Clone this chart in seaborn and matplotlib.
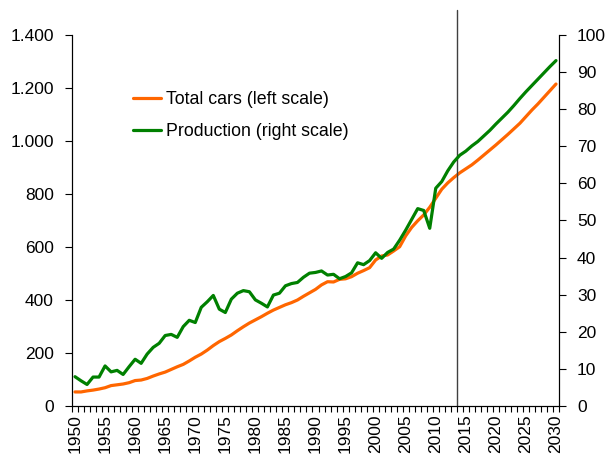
import seaborn as sns
import pandas as pd
import matplotlib.pyplot as plt
from matplotlib.ticker import FuncFormatter, MultipleLocator

# Data
years = list(range(1950, 2031))
total_cars = [53, 53, 57, 60, 64, 69, 77, 80, 83, 88,
              96, 98, 104, 113, 121, 128, 138, 148, 157, 170,
              184, 196, 211, 228, 243, 255, 268, 284, 299, 313,
              325, 337, 350, 362, 372, 382, 390, 400, 414, 427,
              440, 457, 469, 468, 478, 480, 488, 501, 511, 522,
              551, 566, 570, 585, 601, 642, 674, 699, 721, 750,
              784, 818, 842, 862, 880, 895, 910, 928, 947, 966,
              985, 1005, 1025, 1046, 1067, 1092, 1117, 1140, 1165, 1190,
              1215]
production = [7.9, 6.8, 5.8, 7.8, 7.8, 10.8, 9.2, 9.6, 8.5, 10.6,
              12.6, 11.5, 14.0, 15.8, 16.9, 19.0, 19.3, 18.5, 21.4, 23.1,
              22.5, 26.6, 28.1, 29.8, 26.1, 25.2, 28.8, 30.4, 31.1, 30.8,
              28.6, 27.7, 26.7, 29.9, 30.4, 32.4, 33.0, 33.3, 34.7, 35.8,
              36.0, 36.4, 35.3, 35.5, 34.3, 34.9, 35.9, 38.6, 38.1, 39.2,
              41.3, 39.8, 41.4, 42.3, 44.7, 47.4, 50.3, 53.2, 52.7, 47.9,
              58.7, 60.5, 63.4, 65.8, 67.6, 68.7, 70.1, 71.3, 72.8, 74.3,
              76.0, 77.6, 79.2, 81.0, 82.9, 84.7, 86.4, 88.1, 89.8, 91.5,
              93.1]
forecast_start = 2013.5

df = pd.DataFrame({"year": years, "cars": total_cars, "prod": production})

sns.set_theme(style="ticks")
plt.rcParams["font.family"] = ["Liberation Sans", "DejaVu Sans"]
plt.rcParams["text.color"] = "black"

fig = plt.figure(figsize=(6.1, 4.59), dpi=100)
ax = fig.add_axes([72 / 610, 1 - 406 / 459, (559 - 72) / 610, 371 / 459])
ax2 = ax.twinx()

sns.lineplot(data=df, x="year", y="cars", ax=ax, color="#FF6600", linewidth=2.3,
             label="Total cars (left scale)", legend=False)
sns.lineplot(data=df, x="year", y="prod", ax=ax2, color="#008000", linewidth=2.3,
             label="Production (right scale)", legend=False)

ax.axvline(forecast_start, ymin=0, ymax=(406 - 10) / 371, color="#404040",
           linewidth=1.0, clip_on=False)

ax.set_xlim(1949.5, 2030.5)
ax.set_ylim(0, 1400)
ax2.set_ylim(0, 100)
ax.set_xlabel("")
ax.set_ylabel("")
ax2.set_ylabel("")

ax.xaxis.set_major_locator(MultipleLocator(5))
ax.xaxis.set_minor_locator(MultipleLocator(1, offset=0.5))
ax.tick_params(axis="x", which="major", length=0, labelsize=12.5, rotation=90, pad=6,
               labelcolor="black")
ax.tick_params(axis="x", which="minor", length=4, width=0.8, color="black")
ax.yaxis.set_major_locator(MultipleLocator(200))
ax.yaxis.set_major_formatter(FuncFormatter(lambda v, p: f"{int(v):,}".replace(",", ".")))
ax.tick_params(axis="y", length=5, width=0.8, color="black", labelsize=12.5, pad=8,
               labelcolor="black")
ax2.yaxis.set_major_locator(MultipleLocator(10))
ax2.tick_params(axis="y", length=5, width=0.8, color="black", labelsize=12.5, pad=8,
                labelcolor="black")

for a in (ax, ax2):
    a.spines["top"].set_visible(False)
    for s in ("left", "right", "bottom"):
        a.spines[s].set_color("black")
        a.spines[s].set_linewidth(0.8)
    a.grid(False)

h1, l1 = ax.get_legend_handles_labels()
h2, l2 = ax2.get_legend_handles_labels()
leg = ax2.legend(h1 + h2, l1 + l2, loc="upper left", bbox_to_anchor=(133 / 610, 1 - 91 / 459),
                 bbox_transform=fig.transFigure, frameon=False, fontsize=12.8,
                 borderpad=0, borderaxespad=0, handlelength=1.6, handletextpad=0.25,
                 labelspacing=0.85)
for t in leg.get_texts():
    t.set_color("black")

plt.savefig("out.png", dpi=100)
